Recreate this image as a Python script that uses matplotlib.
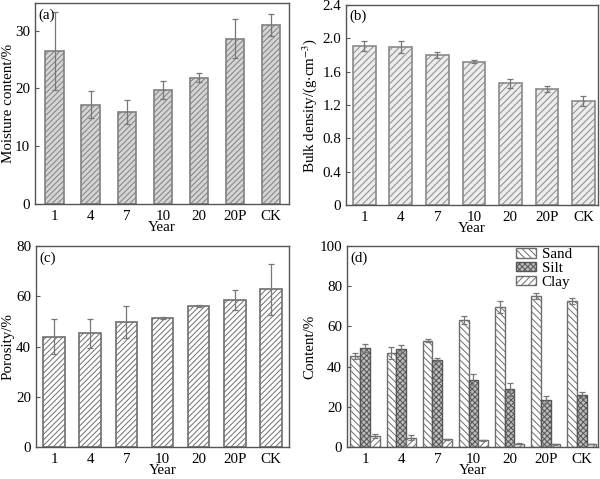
import numpy as np
import matplotlib
matplotlib.use('Agg')
import matplotlib.pyplot as plt
from matplotlib.ticker import FuncFormatter

plt.rcParams['font.family'] = ['Liberation Serif', 'DejaVu Serif']
plt.rcParams['font.size'] = 10.8
plt.rcParams['hatch.linewidth'] = 0.7
plt.rcParams['mathtext.fontset'] = 'stix'

years = ['1', '4', '7', '10', '20', '20P', 'CK']

moisture = [26.5, 17.2, 15.9, 19.7, 21.9, 28.6, 31.0]
moisture_err = [6.7, 2.3, 2.1, 1.6, 0.7, 3.4, 1.85]

bulk = [1.91, 1.90, 1.80, 1.72, 1.46, 1.39, 1.25]
bulk_err = [0.06, 0.07, 0.04, 0.02, 0.055, 0.035, 0.06]

porosity = [43.9, 45.2, 49.7, 51.4, 56.3, 58.5, 62.8]
porosity_err = [6.9, 5.8, 6.3, 0.3, 0.4, 4.0, 10.2]

sand = [45.5, 46.8, 52.9, 63.3, 69.6, 75.0, 72.4]
sand_err = [1.5, 3.0, 0.8, 2.0, 3.0, 1.5, 1.5]
silt = [49.1, 48.8, 43.5, 33.4, 28.8, 23.6, 26.1]
silt_err = [2.0, 2.0, 0.8, 2.8, 3.2, 1.8, 1.5]
clay = [5.6, 4.6, 3.8, 3.3, 1.6, 1.3, 1.5]
clay_err = [1.0, 1.2, 0.3, 0.3, 0.2, 0.2, 0.2]

W, H = 600, 479
fig = plt.figure(figsize=(6, 4.79), dpi=100)


def make_ax(l, r, t, b):
    return fig.add_axes([l / W, 1 - b / H, (r - l) / W, (b - t) / H])


def style(ax, label, ylab, ylim, yticks, fmt=None, ylpad=2):
    for s in ax.spines.values():
        s.set_color('#555555')
        s.set_linewidth(1.0)
    ax.tick_params(direction='in', length=3, color='#555555', width=0.8)
    ax.tick_params(axis='x', length=0, pad=4)
    ax.set_ylim(*ylim)
    ax.set_yticks(yticks)
    if fmt:
        ax.yaxis.set_major_formatter(FuncFormatter(fmt))
    ax.set_xticks(np.arange(len(years)))
    ax.set_xticklabels(years)
    ax.set_xlabel('Year', labelpad=-1)
    ax.set_ylabel(ylab, labelpad=ylpad)
    ax.text(0.015, 0.975, label, transform=ax.transAxes, va='top', ha='left')


x = np.arange(len(years))
ekw = dict(ecolor='#777777', elinewidth=0.9, capsize=2, capthick=0.9)

# (a)
ax = make_ax(35, 289, 3, 204)
ax.bar(x, moisture, 0.52, yerr=moisture_err, color='#d4d4d4', edgecolor='#808080',
       hatch='//////', linewidth=1.2, error_kw=ekw)
ax.set_xlim(-0.55, 6.5)
style(ax, '(a)', 'Moisture content/%', (0, 34.8), [0, 10, 20, 30], ylpad=0)

# (b)
ax = make_ax(346, 598, 5, 205)
ax.bar(x, bulk, 0.62, yerr=bulk_err, color='#ececec', edgecolor='#8a8a8a',
       hatch='/////', linewidth=1.2, error_kw=ekw)
ax.set_xlim(-0.5, 6.4)
style(ax, '(b)', r'Bulk density/(g$\cdot$cm$^{-3}$)', (0, 2.4),
      [0, 0.4, 0.8, 1.2, 1.6, 2.0, 2.4],
      lambda v, p: '0' if v == 0 else f'{v:.1f}')

# (c)
ax = make_ax(36, 289, 246, 447)
ax.bar(x, porosity, 0.6, yerr=porosity_err, color='white', edgecolor='#6e6e6e',
       hatch='//////', linewidth=1.2, error_kw=ekw)
ax.set_xlim(-0.5, 6.5)
style(ax, '(c)', 'Porosity/%', (0, 80), [0, 20, 40, 60, 80], ylpad=1)

# (d)
ax = make_ax(347, 598, 246, 447)
bw = 0.27
ax.bar(x - bw, sand, bw, yerr=sand_err, color='white', edgecolor='#6e6e6e',
       hatch='\\\\\\\\\\', linewidth=1.0, error_kw=ekw, label='Sand')
ax.bar(x, silt, bw, yerr=silt_err, color='#bdbdbd', edgecolor='#555555',
       hatch='xxxxxx', linewidth=1.0, error_kw=ekw, label='Silt')
ax.bar(x + bw, clay, bw, yerr=clay_err, color='white', edgecolor='#6e6e6e',
       hatch='/////', linewidth=1.0, error_kw=ekw, label='Clay')
ax.set_xlim(-0.5, 6.45)
style(ax, '(d)', 'Content/%', (0, 100), [0, 20, 40, 60, 80, 100])
ax.legend(loc='upper left', bbox_to_anchor=(0.65, 1.02), frameon=False,
          handlelength=1.3, handleheight=0.6, labelspacing=0.05,
          handletextpad=0.4, borderaxespad=0.0)

fig.savefig('out.png', dpi=100)
